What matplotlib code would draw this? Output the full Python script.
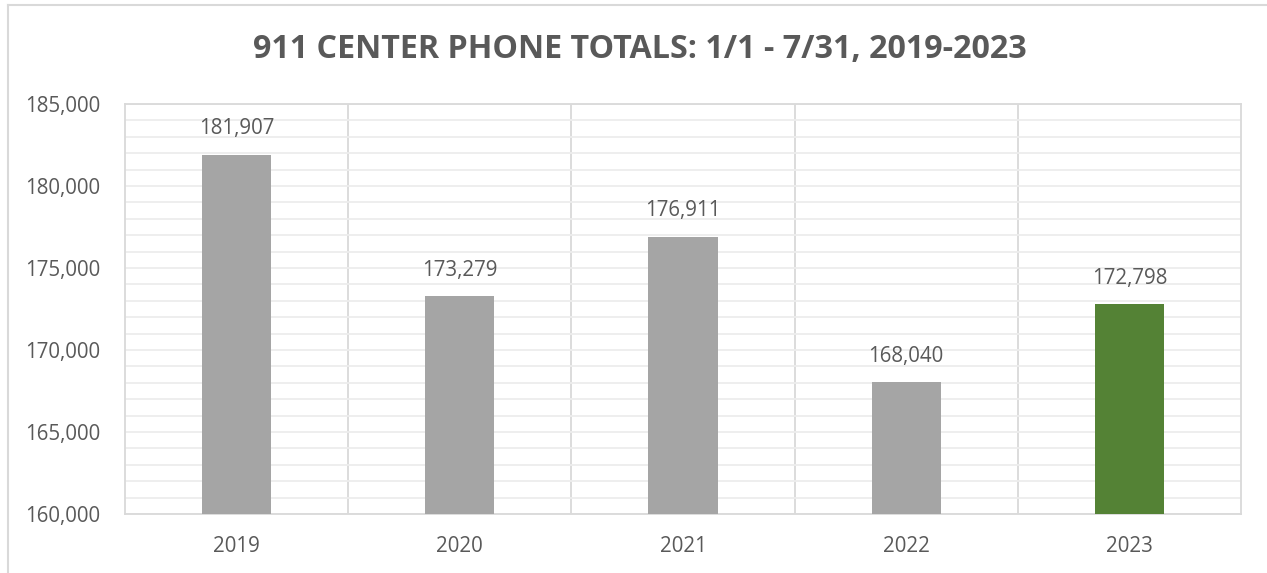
import matplotlib
matplotlib.use("Agg")
import matplotlib.pyplot as plt
from matplotlib.lines import Line2D
from matplotlib.ticker import MultipleLocator, FuncFormatter

years = ["2019", "2020", "2021", "2022", "2023"]
totals = [181907, 173279, 176911, 168040, 172798]
colors = ["#A5A5A5", "#A5A5A5", "#A5A5A5", "#A5A5A5", "#548235"]
title = "911 CENTER PHONE TOTALS: 1/1 - 7/31, 2019-2023"

W, H = 1267, 573
fig = plt.figure(figsize=(W / 100, H / 100), dpi=100)
fig.patch.set_facecolor("white")
plt.rcParams['font.family'] = ['Open Sans', 'DejaVu Sans']

left, right, top, bottom = 125, 1241, 104, 514
ax = fig.add_axes([left / W, 1 - bottom / H, (right - left) / W, (bottom - top) / H])

x = list(range(len(years)))
ax.bar(x, totals, width=0.31, color=colors, zorder=3)
ax.set_xlim(-0.5, len(years) - 0.5)
ax.set_ylim(160000, 185000)

ax.yaxis.set_major_locator(MultipleLocator(5000))
ax.yaxis.set_minor_locator(MultipleLocator(1000))
ax.yaxis.set_major_formatter(FuncFormatter(lambda v, p: f"{int(v):,}"))
ax.grid(axis="y", which="both", color="#EDEDED", linewidth=1.3, zorder=0)
for b in [i + 0.5 for i in x[:-1]]:
    ax.axvline(b, color="#D9D9D9", linewidth=1.3, zorder=1)

ax.set_xticks(x)
ax.set_xticklabels(years)
ax.tick_params(axis="both", which="both", length=0, colors="#595959", labelsize=14.8)
ax.tick_params(axis="x", pad=16)
ax.tick_params(axis="y", pad=18)
for s in ["top", "right", "left", "bottom"]:
    ax.spines[s].set_color("#D9D9D9")
    ax.spines[s].set_linewidth(1.3)

for xi, v in zip(x, totals):
    ax.annotate(f"{v:,}", (xi, v), xytext=(0, 11), textcoords="offset points",
                ha="center", va="bottom", fontsize=14.8, color="#595959")

fig.text(640 / W, 1 - 49 / H, title, ha="center", va="center",
         fontsize=23.2, fontweight="bold", color="#595959")

fig.add_artist(Line2D([8 / W, 8 / W], [0, 1 - 5 / H], transform=fig.transFigure,
                      color="#D9D9D9", linewidth=1.5))
fig.add_artist(Line2D([8 / W, 1], [1 - 5 / H, 1 - 5 / H], transform=fig.transFigure,
                      color="#D9D9D9", linewidth=1.5))

fig.savefig("out.png", dpi=100, facecolor="white")
